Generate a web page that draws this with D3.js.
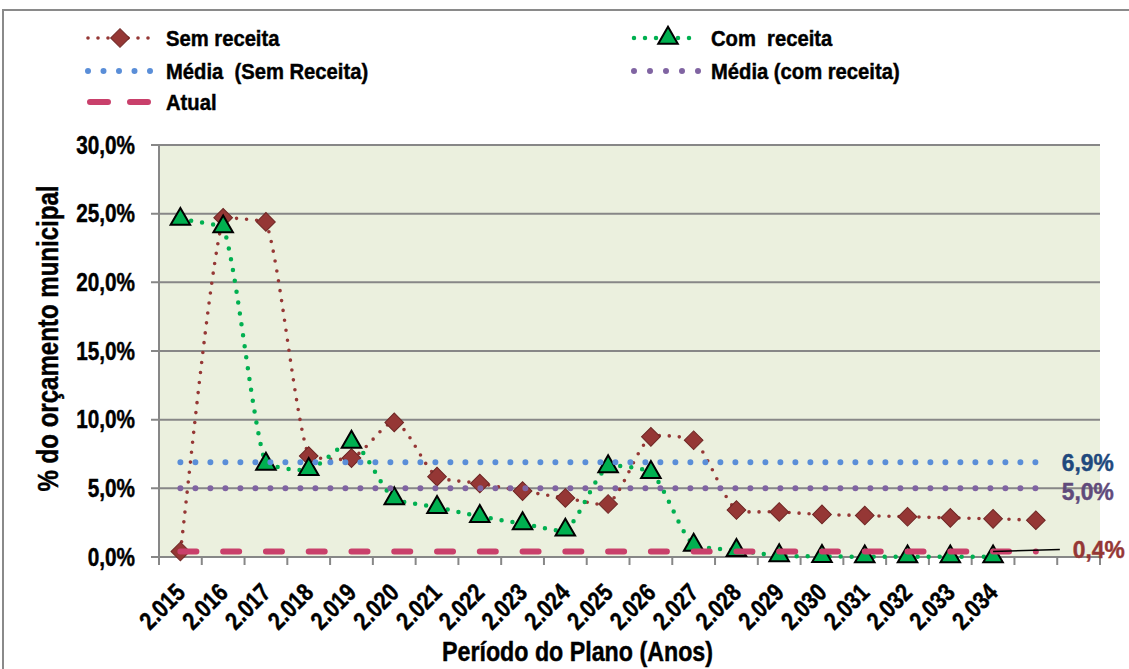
<!DOCTYPE html>
<html><head><meta charset="utf-8">
<script src="https://cdn.jsdelivr.net/npm/d3@7"></script>
<style>
body{margin:0;background:#fff}
svg{display:block}
text{font-family:"Liberation Sans",Arial,sans-serif;font-weight:bold;white-space:pre}
</style>
</head><body>
<svg id="chart" width="1129" height="669"></svg>
<script>
// ---------- DATA ----------
const years = [2015,2016,2017,2018,2019,2020,2021,2022,2023,2024,2025,2026,2027,2028,2029,2030,2031,2032,2033,2034,2035,2036];
const tickLabels = ["2.015","2.016","2.017","2.018","2.019","2.020","2.021","2.022","2.023","2.024","2.025","2.026","2.027","2.028","2.029","2.030","2.031","2.032","2.033","2.034","",""];
const semReceita = [0.4,24.7,24.4,7.35,7.2,9.8,5.85,5.35,4.8,4.3,3.86,8.75,8.5,3.42,3.28,3.1,3.02,2.93,2.85,2.78,2.68];
const comReceita = [24.6,24.05,6.77,6.38,8.37,4.25,3.62,2.96,2.43,1.97,6.58,6.17,0.87,0.49,0.1,0.05,0.02,0.02,0.02,0.02];
const mediaSemReceita = [6.9,6.9,6.9,6.9,6.9,6.9,6.9,6.9,6.9,6.9,6.9,6.9,6.9,6.9,6.9,6.9,6.9,6.9,6.9,6.9,6.9];
const mediaComReceita = [5.0,5.0,5.0,5.0,5.0,5.0,5.0,5.0,5.0,5.0,5.0,5.0,5.0,5.0,5.0,5.0,5.0,5.0,5.0,5.0,5.0];
const atual = [0.4,0.4,0.4,0.4,0.4,0.4,0.4,0.4,0.4,0.4,0.4,0.4,0.4,0.4,0.4,0.4,0.4,0.4,0.4,0.4,0.4];
const yTicks = [0,5,10,15,20,25,30];
const yTickLabels = ["0,0%","5,0%","10,0%","15,0%","20,0%","25,0%","30,0%"];
const endLabels = ["6,9%","5,0%","0,4%"];
const legendNames = ["Sem receita","Com  receita","Média  (Sem Receita)","Média (com receita)","Atual"];
const xTitle = "Período do Plano (Anos)";
const yTitle = "% do orçamento municipal";

// ---------- STYLE ----------
const C = {
  sem:"#953735", semEdge:"#6e2624", com:"#00B050", medSem:"#5A8ED8", medCom:"#8064A2",
  atual:"#C9406B", grid:"#878787", bg:"#EBF0DE",
  lab69:"#1F497D", lab50:"#604A7B", lab04:"#953735"
};

const svg = d3.select("#chart");
const L = 159, R = 1100, T = 145, B = 557;

const x = d3.scaleBand().domain(years).range([L, R]).paddingInner(0).paddingOuter(0);
const xc = i => x(years[i]) + x.bandwidth()/2;
const y = d3.scaleLinear().domain([0,30]).range([B, T]);

function txt(parent, px, py, str, o){
  const g = parent.append("g")
    .attr("transform", `translate(${px},${py}) rotate(${o.rot||0}) scale(${o.sx||1},1)`);
  g.append("text")
    .attr("text-anchor", o.anchor || "start")
    .attr("dy", o.dy || "0.35em")
    .attr("fill", o.color || "#000")
    .attr("stroke", o.color || "#000")
    .attr("stroke-width", o.sw === undefined ? 0.45 : o.sw)
    .style("font-size", o.size + "px")
    .text(str);
  return g;
}

// Excel-like smoothed line: Catmull-Rom tangents, damped on short segments
function smoothPath(vals){
  const pts = vals.map((d,i) => [xc(i), y(d)]);
  const n = pts.length, p = d3.path();
  const dist = (a,b) => Math.hypot(b[0]-a[0], b[1]-a[1]);
  p.moveTo(pts[0][0], pts[0][1]);
  for (let i = 0; i < n-1; i++){
    const p0 = pts[i-1] || pts[i], p1 = pts[i], p2 = pts[i+1], p3 = pts[i+2] || pts[i+1];
    const d01 = dist(p0,p1), d12 = dist(p1,p2), d23 = dist(p2,p3);
    const k1 = d01 > 0 ? Math.pow(Math.min(1, d12/d01), 2) : 1;
    const k2 = d23 > 0 ? Math.pow(Math.min(1, d12/d23), 2) : 1;
    const c1 = [p1[0] + (p2[0]-p0[0])/6*k1, p1[1] + (p2[1]-p0[1])/6*k1];
    const c2 = [p2[0] - (p3[0]-p1[0])/6*k2, p2[1] - (p3[1]-p1[1])/6*k2];
    p.bezierCurveTo(c1[0],c1[1],c2[0],c2[1],p2[0],p2[1]);
  }
  return p.toString();
}

// outer chart border
svg.append("rect").attr("x",3).attr("y",10).attr("width",1200).attr("height",700)
  .attr("fill","none").attr("stroke","#8a8a8a").attr("stroke-width",2);

// plot background
svg.append("rect").attr("x",L).attr("y",T).attr("width",R-L).attr("height",B-T).attr("fill",C.bg);

// gridlines & y ticks
yTicks.forEach((t,i) => {
  svg.append("line").attr("x1",L-8).attr("x2", t===0 ? L : R)
    .attr("y1",y(t)).attr("y2",y(t)).attr("stroke",C.grid).attr("stroke-width",2);
  txt(svg, 135, y(t), yTickLabels[i], {size:25, sx:0.83, anchor:"end"});
});
// y axis line
svg.append("line").attr("x1",L).attr("x2",L).attr("y1",T).attr("y2",B).attr("stroke",C.grid).attr("stroke-width",2);
// x axis line + ticks at band boundaries
svg.append("line").attr("x1",L).attr("x2",R).attr("y1",B).attr("y2",B).attr("stroke",C.grid).attr("stroke-width",2);
years.forEach((yr,i) => {
  const bx = x(yr);
  svg.append("line").attr("x1",bx).attr("x2",bx).attr("y1",B).attr("y2",B+8).attr("stroke",C.grid).attr("stroke-width",2);
  if (tickLabels[i]) txt(svg, xc(i), 588, tickLabels[i], {size:25, sx:0.83, anchor:"end", rot:-45});
});
svg.append("line").attr("x1",R).attr("x2",R).attr("y1",B).attr("y2",B+8).attr("stroke",C.grid).attr("stroke-width",2);

// axis titles
txt(svg, 577.5, 661, xTitle, {size:28, sx:0.83, anchor:"middle", dy:"0"});
txt(svg, 58, 338.5, yTitle, {size:29, sx:0.83, anchor:"middle", dy:"0", rot:-90});

// series
const straight = d3.line().x((d,i)=>xc(i)).y(d=>y(d));
const diamond = d3.symbol().type(d3.symbolSquare).size(175);
const tri = d3.symbol().type(d3.symbolTriangle).size(165);

// Sem receita
svg.append("path").attr("d",smoothPath(semReceita)).attr("fill","none").attr("stroke",C.sem)
  .attr("stroke-width",3.6).attr("stroke-linecap","round").attr("stroke-dasharray","0,10");
svg.selectAll(".dm").data(semReceita).join("path").attr("class","dm")
  .attr("d",diamond).attr("transform",(d,i)=>`translate(${xc(i)},${y(d)}) rotate(45)`)
  .attr("fill",C.sem).attr("stroke",C.semEdge).attr("stroke-width",1);

// Com receita
svg.append("path").attr("d",smoothPath(comReceita)).attr("fill","none").attr("stroke",C.com)
  .attr("stroke-width",4.5).attr("stroke-linecap","round").attr("stroke-dasharray","0,11");
svg.selectAll(".tr").data(comReceita).join("path").attr("class","tr")
  .attr("d",tri).attr("transform",(d,i)=>`translate(${xc(i)},${y(d)})`)
  .attr("fill",C.com).attr("stroke","#000").attr("stroke-width",2);

// Médias
svg.append("path").attr("d",straight(mediaSemReceita)).attr("fill","none").attr("stroke",C.medSem)
  .attr("stroke-width",6).attr("stroke-linecap","round").attr("stroke-dasharray","0,15");
svg.append("path").attr("d",straight(mediaComReceita)).attr("fill","none").attr("stroke",C.medCom)
  .attr("stroke-width",6).attr("stroke-linecap","round").attr("stroke-dasharray","0,15");

// Atual
const step = x.step();
svg.append("path").attr("d",straight(atual)).attr("fill","none").attr("stroke",C.atual)
  .attr("stroke-width",6).attr("stroke-linecap","round").attr("stroke-dasharray",`16,${step-16}`);

// leader line + end labels
const last = atual.length - 1;
svg.append("line").attr("x1",xc(last-1)).attr("y1",y(atual[last-1])).attr("x2",xc(last)+24).attr("y2",y(atual[last])-2)
  .attr("stroke","#000").attr("stroke-width",1.5);
txt(svg, xc(last)+26, y(mediaSemReceita[last]), endLabels[0], {size:24, sx:0.95, color:C.lab69});
txt(svg, xc(last)+26, y(mediaComReceita[last])+3, endLabels[1], {size:24, sx:0.95, color:C.lab50});
txt(svg, xc(last)+37, y(atual[last])-2, endLabels[2], {size:24, sx:0.95, color:C.lab04});

// ---------- LEGEND ----------
const lg = svg.append("g");
function legLine(x1, x2, yy, color, w, dash){
  lg.append("line").attr("x1",x1).attr("x2",x2).attr("y1",yy).attr("y2",yy)
    .attr("stroke",color).attr("stroke-width",w).attr("stroke-linecap","round").attr("stroke-dasharray",dash);
}
const rows = [38, 71, 102];
// Sem receita
legLine(88, 152, rows[0], C.sem, 3.6, "0,10");
lg.append("path").attr("d",diamond).attr("transform",`translate(120,${rows[0]}) rotate(45)`)
  .attr("fill",C.sem).attr("stroke",C.semEdge).attr("stroke-width",1);
txt(lg, 166, rows[0], legendNames[0], {size:21.5, sx:0.94});
// Com receita
legLine(634, 700, rows[0], C.com, 4.5, "0,11");
lg.append("path").attr("d",tri).attr("transform",`translate(668,${rows[0]})`)
  .attr("fill",C.com).attr("stroke","#000").attr("stroke-width",2);
txt(lg, 711, rows[0], legendNames[1], {size:21.5, sx:0.94});
// Média sem
legLine(88, 152, rows[1], C.medSem, 6, "0,15.5");
txt(lg, 166, rows[1], legendNames[2], {size:21.5, sx:0.94});
// Média com
legLine(634, 700, rows[1], C.medCom, 6, "0,16");
txt(lg, 711, rows[1], legendNames[3], {size:21.5, sx:0.94});
// Atual
legLine(90, 150, rows[2], C.atual, 6, "18,22");
txt(lg, 166, rows[2], legendNames[4], {size:21.5, sx:0.94});
</script>
</body></html>
